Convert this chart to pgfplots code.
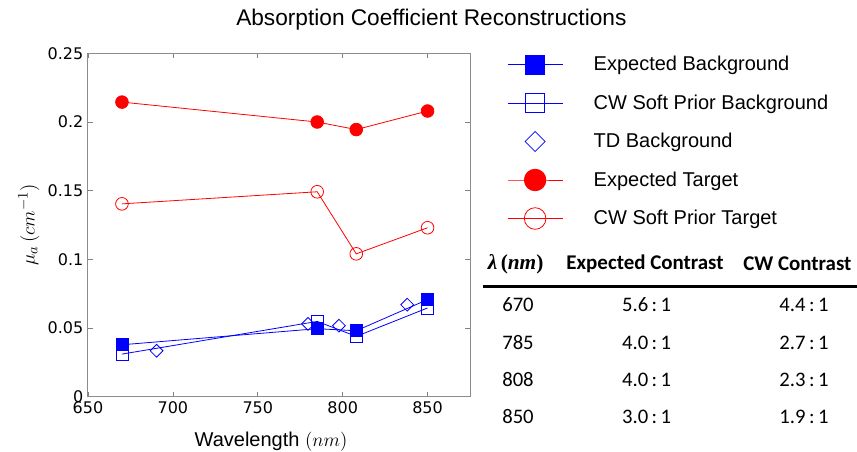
\documentclass[border=0pt]{standalone}
\usepackage{pgfplots}
\pgfplotsset{compat=1.18}
\usepackage{fontspec}
\setmainfont{Liberation Sans}
\newfontfamily\dejavu{DejaVu Sans}
\newfontfamily\carlito{Carlito}
\newfontfamily\libserif{Liberation Serif}
\tikzset{
  tabtxt/.style={font=\carlito\fontsize{15.5}{18}\selectfont, inner sep=0pt},
  tabhead/.style={font=\carlito\bfseries\fontsize{15.7}{18}\selectfont, inner sep=0pt},
}

\begin{document}
\begin{tikzpicture}
\path[use as bounding box] (0,0) rectangle (642.75pt,-338.25pt);
\begin{axis}[
    at={(66pt,-297.5pt)}, anchor=south west,
    scale only axis, width=286.5pt, height=257.5pt,
    xmin=650, xmax=875, ymin=0, ymax=0.25,
    xtick={650,700,750,800,850},
    xticklabels={650,700,750,800,850},
    ytick={0,0.05,0.1,0.15,0.2,0.25},
    yticklabels={0,0.05,0.1,0.15,0.2,0.25},
    scaled y ticks=false, scaled x ticks=false,
    tick label style={font=\dejavu\fontsize{12}{14}\selectfont},
    tick align=inside, major tick length=3.5pt,
    tick style={black!50, line width=0.5pt},
    axis line style={black!45, line width=0.75pt},
    xlabel={Wavelength $(nm)$},
    ylabel={$\mu_a\,(cm^{-1})$},
    label style={font=\fontsize{15}{18}\selectfont},
    xlabel style={at={(axis description cs:0.5,-0.131)}, anchor=center, xshift=-6pt},
    ylabel style={at={(axis description cs:-0.155,0.5)}, anchor=center},
    legend image code/.code={\draw[mark repeat=2,mark phase=2,#1] plot coordinates {(0pt,0pt)(20.6pt,0pt)(41.2pt,0pt)};},
    legend cell align=left,
    legend style={at={(1,1)}, anchor=north west, xshift=27.75pt, yshift=0pt,
        draw=none, fill=none, inner sep=0pt, row sep=12.5pt, column sep=21pt,
        font=\fontsize{15}{18}\selectfont},
]
% legend entries (marks drawn larger than in the plot)
\addlegendimage{blue, line width=0.6pt, mark=square*, mark size=7.1pt}
\addlegendentry{Expected Background}
\addlegendimage{blue, line width=0.6pt, mark=square, mark size=7.1pt}
\addlegendentry{CW Soft Prior Background}
\addlegendimage{blue, line width=0.6pt, /tikz/only marks, mark=square, mark size=5.3pt, mark options={rotate=45}}
\addlegendentry{TD Background}
\addlegendimage{red, line width=0.6pt, mark=*, mark size=8.1pt}
\addlegendentry{Expected Target}
\addlegendimage{red, line width=0.6pt, mark=o, mark size=8.1pt}
\addlegendentry{CW Soft Prior Target}

% data
\addplot[red, line width=0.6pt, mark=*, mark size=4.75pt, forget plot] coordinates {
    (670,0.2145) (785,0.2) (808,0.1945) (850,0.208)
};
\addplot[red, line width=0.6pt, mark=o, mark size=4.75pt, forget plot] coordinates {
    (670,0.1404) (785,0.1492) (808,0.104) (850,0.123)
};
\addplot[blue, line width=0.6pt, mark=square, mark size=4.5pt, forget plot] coordinates {
    (670,0.031) (785,0.0548) (808,0.0439) (850,0.0646)
};
\addplot[blue, line width=0.6pt, only marks, mark=square, mark size=3.4pt, mark options={rotate=45}, forget plot] coordinates {
    (690.4,0.0334) (779.6,0.053) (797.8,0.0517) (838,0.067)
};
\addplot[blue, line width=0.6pt, mark=square*, mark size=4.5pt, forget plot] coordinates {
    (670,0.0378) (785,0.0495) (808,0.048) (850,0.0707)
};
\end{axis}

% title
\node[font=\fontsize{17}{20}\selectfont] at (323.5pt,-15pt) {Absorption Coefficient Reconstructions};

% contrast table
\node[font=\libserif\bfseries\fontsize{16}{19}\selectfont, inner sep=0pt] at (386.7pt,-198pt) {{\itshape λ}\,({\itshape nm})};
\node[tabhead] at (483.75pt,-198pt) {Expected Contrast};
\node[tabhead, anchor=west] at (557.25pt,-198pt) {CW Contrast};
\draw[line width=2pt] (362.25pt,-214.9pt) -- (660pt,-214.9pt);
\node[tabtxt] at (388.5pt,-228.75pt) {670};
\node[tabtxt] at (485pt,-228.75pt) {5.6\,:\,1};
\node[tabtxt] at (603pt,-228.75pt) {4.4\,:\,1};
\node[tabtxt] at (388.5pt,-257pt) {785};
\node[tabtxt] at (485pt,-257pt) {4.0\,:\,1};
\node[tabtxt] at (603pt,-257pt) {2.7\,:\,1};
\node[tabtxt] at (388.5pt,-285pt) {808};
\node[tabtxt] at (485pt,-285pt) {4.0\,:\,1};
\node[tabtxt] at (603pt,-285pt) {2.3\,:\,1};
\node[tabtxt] at (388.5pt,-312.5pt) {850};
\node[tabtxt] at (485pt,-312.5pt) {3.0\,:\,1};
\node[tabtxt] at (603pt,-312.5pt) {1.9\,:\,1};
\end{tikzpicture}
\end{document}
